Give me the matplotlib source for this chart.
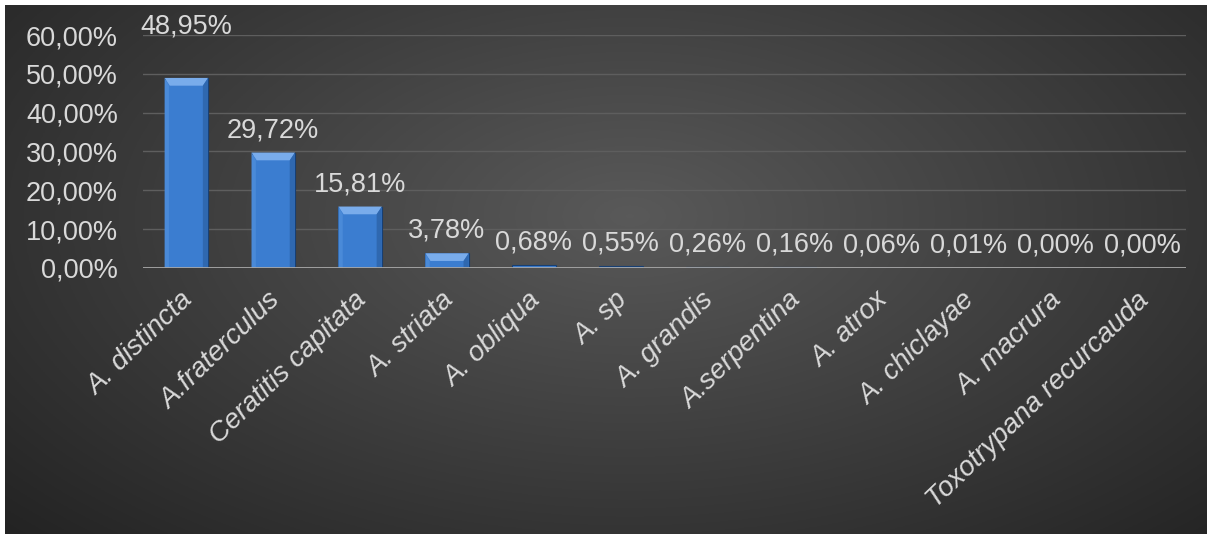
import numpy as np
import matplotlib.pyplot as plt
import matplotlib.transforms as mtransforms

species = ['A. distincta', 'A.fraterculus', 'Ceratitis capitata', 'A. striata',
           'A. obliqua', 'A. sp', 'A. grandis', 'A.serpentina', 'A. atrox',
           'A. chiclayae', 'A. macrura', 'Toxotrypana recurcauda']
share = [48.95, 29.72, 15.81, 3.78, 0.68, 0.55, 0.26, 0.16, 0.06, 0.01, 0.00, 0.00]
yticks = [0, 10, 20, 30, 40, 50, 60]

plt.rcParams['font.family'] = ['Liberation Sans', 'DejaVu Sans']
txt = '#d9d9d9'
fs = 19.5

fig = plt.figure(figsize=(12.11, 5.39), dpi=100)

# radial gradient background
bg = fig.add_axes([0.004, 0.009, 0.992, 0.982])
yy, xx = np.mgrid[0:1:300j, 0:1:600j]
r = np.sqrt(((xx - 0.52) * 1.1) ** 2 + ((yy - 0.6) * 0.9) ** 2)
shade = np.clip(0.35 - 0.27 * r, 0.14, 0.35)
bg.imshow(np.dstack([shade] * 3), aspect='auto', extent=[0, 1, 0, 1], origin='lower')
bg.set_axis_off()

ax = fig.add_axes([0.118, 0.503, 0.861, 0.432])
ax.patch.set_alpha(0)
x = np.arange(len(species))
w = 0.5
ax.bar(x, share, width=w, color='#3b7dd0', edgecolor='#173f73',
       linewidth=0.8, zorder=3)
# bevel: light top face, darker sides
for xi, v in zip(x, share):
    if v > 1:
        ax.fill([xi - w / 2, xi + w / 2, xi + w / 2 - 0.06, xi - w / 2 + 0.06],
                [v, v, v - 2, v - 2], color='#79aceb', zorder=4, lw=0)
        ax.fill([xi + w / 2, xi + w / 2, xi + w / 2 - 0.06, xi + w / 2 - 0.06],
                [0, v, v - 2, 0], color='#2f68b0', zorder=4, lw=0)
        ax.fill([xi - w / 2, xi - w / 2, xi - w / 2 + 0.05, xi - w / 2 + 0.05],
                [0, v, v - 2, 0], color='#4a8ad8', zorder=4, lw=0)

# value labels; the first one sits higher, as in the source chart
for i, (xi, v) in enumerate(zip(x, share)):
    ly = 60.3 if i == 0 else v + 4
    ax.text(xi, ly, f'{v:.2f}%'.replace('.', ','), ha='center', va='baseline',
            color=txt, fontsize=fs, clip_on=False, zorder=6)

ax.set_xlim(-0.5, len(species) - 0.5)
ax.set_ylim(0, 60)
ax.set_yticks(yticks)
ax.set_yticklabels([f'{t},00%' for t in yticks], color=txt, fontsize=fs)
ax.yaxis.grid(True, color='#5e5e5e', lw=1, zorder=0)
ax.axhline(0, color='#a8a8a8', lw=2, zorder=5)

# category labels drawn as text so they can be nudged like the original
ax.set_xticks([])
lab_tr = ax.get_xaxis_transform() + mtransforms.ScaledTranslation(
    -4.5 / 72, -14 / 72, fig.dpi_scale_trans)
for xi, name in zip(x, species):
    ax.text(xi, 0, name, transform=lab_tr, rotation=44, ha='right', va='top',
            rotation_mode='anchor', style='italic', color=txt, fontsize=20)

ax.tick_params(axis='y', length=0, pad=18)
for s in ax.spines.values():
    s.set_visible(False)

fig.savefig('out.png', dpi=100)
